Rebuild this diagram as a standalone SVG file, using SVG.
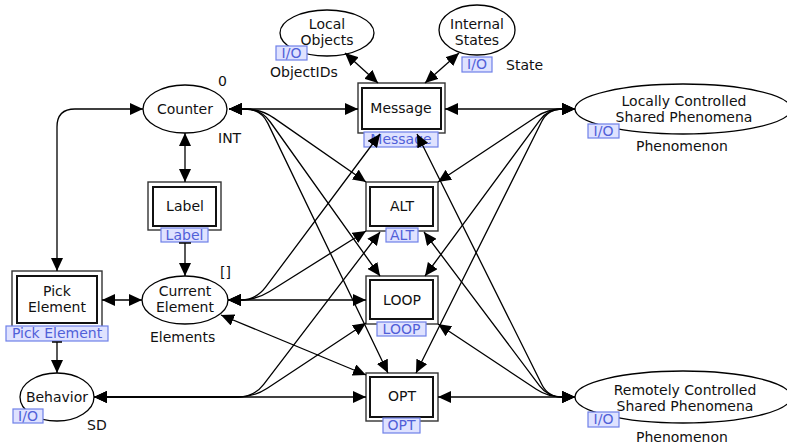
<svg xmlns="http://www.w3.org/2000/svg" width="787" height="447" viewBox="0 0 787 447">
<defs>
  <marker id="arrow" markerUnits="userSpaceOnUse" markerWidth="13" markerHeight="12" refX="13" refY="6" orient="auto-start-reverse">
    <path d="M0,0 L13,6 L0,12 z" fill="#000"/>
  </marker>
</defs>
<style>
  text{font-family:"DejaVu Sans",Verdana,sans-serif;font-size:14px;fill:#111}
  .mid{text-anchor:middle}
  .place{fill:#fff;stroke:#000;stroke-width:1.3}
  .outer{fill:#fff;stroke:#333;stroke-width:1.4}
  .inner{fill:#fff;stroke:#111;stroke-width:2}
  .tag rect{fill:#dfe2ff;stroke:#6f80e8;stroke-width:1.2}
  .tag text{fill:#5060d8;text-anchor:middle}
  .arc{fill:none;stroke:#000;stroke-width:1.3}
  .bi{marker-start:url(#arrow);marker-end:url(#arrow)}
  .uni{marker-end:url(#arrow)}
</style>
<rect width="787" height="447" fill="#fff"/>

<!-- places -->
<g id="local-objects">
  <ellipse class="place" cx="327" cy="33" rx="47" ry="23"/>
  <text class="mid" x="327" y="29">Local</text>
  <text class="mid" x="327" y="45">Objects</text>
  <g class="tag"><rect x="276" y="46" width="31" height="14"/><text x="291.5" y="58">I/O</text></g>
  <text x="270" y="77">ObjectIDs</text>
</g>
<g id="internal-states">
  <ellipse class="place" cx="477" cy="30" rx="38" ry="25"/>
  <text class="mid" x="477" y="29">Internal</text>
  <text class="mid" x="477" y="45">States</text>
  <g class="tag"><rect x="462" y="57" width="30" height="15"/><text x="477" y="69">I/O</text></g>
  <text x="506" y="70">State</text>
</g>
<g id="counter">
  <ellipse class="place" cx="185" cy="109" rx="42" ry="24"/>
  <text class="mid" x="185" y="114">Counter</text>
  <text x="218" y="86">0</text>
  <text x="218" y="143">INT</text>
</g>
<g id="current-element">
  <ellipse class="place" cx="185" cy="300" rx="43" ry="24"/>
  <text class="mid" x="185" y="296">Current</text>
  <text class="mid" x="185" y="312">Element</text>
  <text x="220" y="277">[]</text>
  <text x="150" y="342">Elements</text>
</g>
<g id="behavior">
  <ellipse class="place" cx="57" cy="397" rx="37" ry="24"/>
  <text class="mid" x="57" y="402">Behavior</text>
  <g class="tag"><rect x="13" y="409" width="30" height="14"/><text x="28" y="421">I/O</text></g>
  <text x="87" y="430">SD</text>
</g>
<g id="locally-controlled">
  <ellipse class="place" cx="683" cy="109" rx="108" ry="25"/>
  <text class="mid" x="684" y="106">Locally Controlled</text>
  <text class="mid" x="684" y="122">Shared Phenomena</text>
  <g class="tag"><rect x="588" y="124" width="31" height="14"/><text x="603.5" y="136">I/O</text></g>
  <text x="636" y="151">Phenomenon</text>
</g>
<g id="remotely-controlled">
  <ellipse class="place" cx="683" cy="397" rx="108" ry="26"/>
  <text class="mid" x="685" y="395">Remotely Controlled</text>
  <text class="mid" x="685" y="411">Shared Phenomena</text>
  <g class="tag"><rect x="588" y="412" width="31" height="15"/><text x="603.5" y="424">I/O</text></g>
  <text x="636" y="442">Phenomenon</text>
</g>

<!-- substitution transitions -->
<g id="message">
  <rect class="outer" x="358" y="83" width="87" height="50"/>
  <rect class="inner" x="362" y="88" width="79" height="41"/>
  <text class="mid" x="401" y="113">Message</text>
  <g class="tag"><rect x="364" y="132" width="74" height="15"/><text x="401" y="144">Message</text></g>
</g>
<g id="label">
  <rect class="outer" x="148" y="182" width="73" height="48"/>
  <rect class="inner" x="153" y="187" width="63" height="39"/>
  <text class="mid" x="185" y="211">Label</text>
  <g class="tag"><rect x="161" y="228" width="47" height="14"/><text x="184.5" y="240">Label</text></g>
</g>
<g id="pick-element">
  <rect class="outer" x="12" y="271" width="90" height="57"/>
  <rect class="inner" x="17" y="276" width="80" height="47"/>
  <text class="mid" x="57" y="296">Pick</text>
  <text class="mid" x="57" y="312">Element</text>
  <g class="tag"><rect x="6" y="326" width="102" height="15"/><text x="57" y="338">Pick Element</text></g>
</g>
<g id="alt">
  <rect class="outer" x="366" y="182" width="72" height="49"/>
  <rect class="inner" x="370" y="187" width="63" height="39"/>
  <text class="mid" x="402" y="211">ALT</text>
  <g class="tag"><rect x="386" y="228" width="32" height="14"/><text x="402" y="240">ALT</text></g>
</g>
<g id="loop">
  <rect class="outer" x="366" y="276" width="72" height="48"/>
  <rect class="inner" x="370" y="280" width="63" height="39"/>
  <text class="mid" x="402" y="305">LOOP</text>
  <g class="tag"><rect x="377" y="322" width="49" height="14"/><text x="401.5" y="334">LOOP</text></g>
</g>
<g id="opt">
  <rect class="outer" x="366" y="373" width="72" height="48"/>
  <rect class="inner" x="370" y="377" width="63" height="40"/>
  <text class="mid" x="402" y="401">OPT</text>
  <g class="tag"><rect x="383" y="418" width="37" height="15"/><text x="401.5" y="430">OPT</text></g>
</g>

<!-- arcs -->
<g id="connectors">
  <path class="arc bi" d="M345,53 L378,83"/>
  <path class="arc bi" d="M459,53 L425,83"/>
  <path class="arc bi" d="M185,133 V182"/>
  <path class="arc uni" d="M179,243 H191 M185,243 V276"/>
  <path class="arc bi" d="M57,271 V127 Q57,109 75,109 H143"/>
  <path class="arc bi" d="M102,300 H142"/>
  <path class="arc uni" d="M52,342 H62 M57,342 V373"/>

  <!-- Counter -->
  <path class="arc bi" d="M229,109 H358"/>
  <path class="arc bi" d="M229,109 H245 Q261,109 274.1,118.1 L366,182"/>
  <path class="arc bi" d="M229,109 H245 Q261,109 270.3,122 L380,276"/>
  <path class="arc bi" d="M229,109 H245 Q261,109 267.9,123.4 L388,373"/>

  <!-- Locally Controlled Shared Phenomena -->
  <path class="arc bi" d="M575,109 H445"/>
  <path class="arc bi" d="M575,109 H562 Q548,109 536.3,116.7 L438,182"/>
  <path class="arc bi" d="M575,109 H562 Q548,109 539.7,120.3 L425,276"/>
  <path class="arc bi" d="M575,109 H562 Q548,109 541.7,121.5 L416,373"/>

  <!-- Remotely Controlled Shared Phenomena -->
  <path class="arc bi" d="M575,397 H438"/>
  <path class="arc bi" d="M575,397 H562 Q548,397 536.3,389.3 L438,324"/>
  <path class="arc bi" d="M575,397 H562 Q548,397 539.6,385.8 L424,232"/>
  <path class="arc bi" d="M575,397 H562 Q548,397 541.8,384.5 L417,134"/>

  <!-- Behavior -->
  <path class="arc bi" d="M94,397 H366"/>
  <path class="arc bi" d="M94,397 H238 Q254,397 267.3,388.2 L366,323"/>
  <path class="arc bi" d="M94,397 H238 Q254,397 263.7,384.3 L380,232"/>

  <!-- Current Element -->
  <path class="arc bi" d="M228,300 H366"/>
  <path class="arc bi" d="M228,300 H240 Q256,300 269.6,291.5 L366,231"/>
  <path class="arc bi" d="M228,300 H240 Q256,300 265.6,287.2 L380,134"/>
  <path class="arc bi" d="M221,315 L366,375"/>
</g>
</svg>
